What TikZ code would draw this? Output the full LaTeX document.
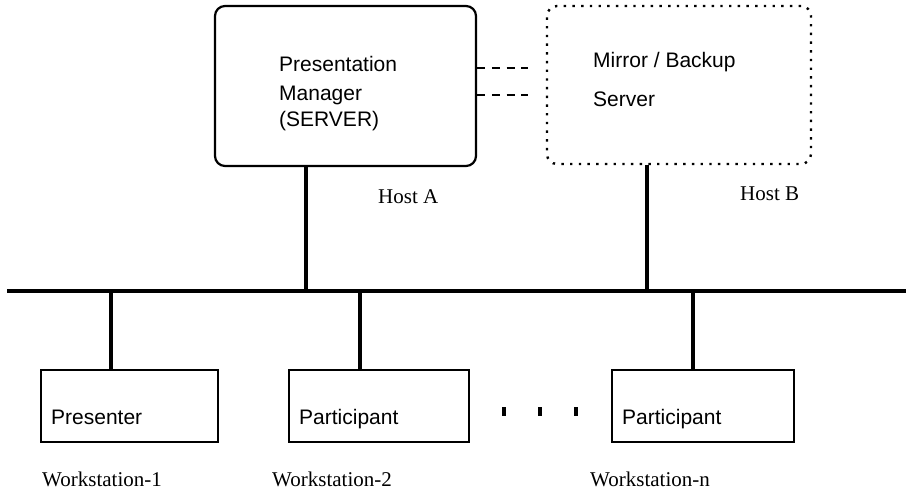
\documentclass[tikz,border=0pt]{standalone}
\usepackage{fontspec}
\setmainfont{Liberation Serif}
\newfontfamily\sansf{Liberation Sans}
\begin{document}
\begin{tikzpicture}[x=1pt,y=-1pt,
  box/.style={draw, line width=2.2pt, inner sep=0pt},
  busline/.style={line width=4.4pt},
  tapline/.style={line width=3.5pt},
  lbl/.style={inner sep=0pt, anchor=base west, font=\fontsize{21}{25}\selectfont},
  slbl/.style={inner sep=0pt, anchor=base west, font=\sansf\fontsize{21}{25}\selectfont}]
\useasboundingbox (0,0) rectangle (906,496);
% hosts
\node[box, rounded corners=10pt, minimum width=261pt, minimum height=160pt] (srv) at (345.5,86) {};
\node[box, rounded corners=10pt, line width=2.4pt, dash pattern=on 2.4pt off 6.3pt, minimum width=264pt, minimum height=158pt] (mir) at (679,85) {};
\node[slbl] (t1) at (279,71) {Presentation};
\node[slbl] (t2) at (279,100) {Manager};
\node[slbl] (t3) at (279,126) {(SERVER)};
\node[slbl] (t4) at (593,67) {Mirror / Backup};
\node[slbl] (t5) at (593,106) {Server};
\node[lbl] (ha) at (378,203) {Host A};
\node[lbl] (hb) at (740,200) {Host B};
% dashed links
\coordinate (d1) at (528,68);
\coordinate (d2) at (528,95);
\draw[line width=2.2pt, dash pattern=on 8pt off 6.7pt] (d1 -| srv.east) -- (d1);
\draw[line width=2.2pt, dash pattern=on 8pt off 6.7pt] (d2 -| srv.east) -- (d2);
% bus
\coordinate (busL) at (7,291);
\coordinate (busR) at (906,291);
\draw[busline] (busL) -- (busR);
% workstations
\node[box, minimum width=177pt, minimum height=72pt] (w1) at (129.5,406) {};
\node[box, minimum width=180pt, minimum height=72pt] (w2) at (379,406) {};
\node[box, minimum width=182pt, minimum height=72pt] (w3) at (703,406) {};
\node[slbl] (p1) at (51,424) {Presenter};
\node[slbl] (p2) at (299,424) {Participant};
\node[slbl] (p3) at (622,424) {Participant};
\node[lbl] (l1) at (42,486) {Workstation-1};
\node[lbl] (l2) at (272,486) {Workstation-2};
\node[lbl] (l3) at (590,486) {Workstation-n};
% taps
\coordinate (xa) at (306,0);
\coordinate (xb) at (647,0);
\coordinate (x1) at (111,0);
\coordinate (x2) at (360,0);
\coordinate (x3) at (693,0);
\draw[tapline] (xa |- srv.south) -- (xa |- busL);
\draw[tapline] (xb |- mir.south) -- (xb |- busL);
\draw[tapline] (x1 |- busL) -- (x1 |- w1.north);
\draw[tapline] (x2 |- busL) -- (x2 |- w2.north);
\draw[tapline] (x3 |- busL) -- (x3 |- w3.north);
% ellipsis marks
\foreach \x in {504,540,576} \draw[line width=3.5pt] (\x,407) -- (\x,416);
\end{tikzpicture}
\end{document}
